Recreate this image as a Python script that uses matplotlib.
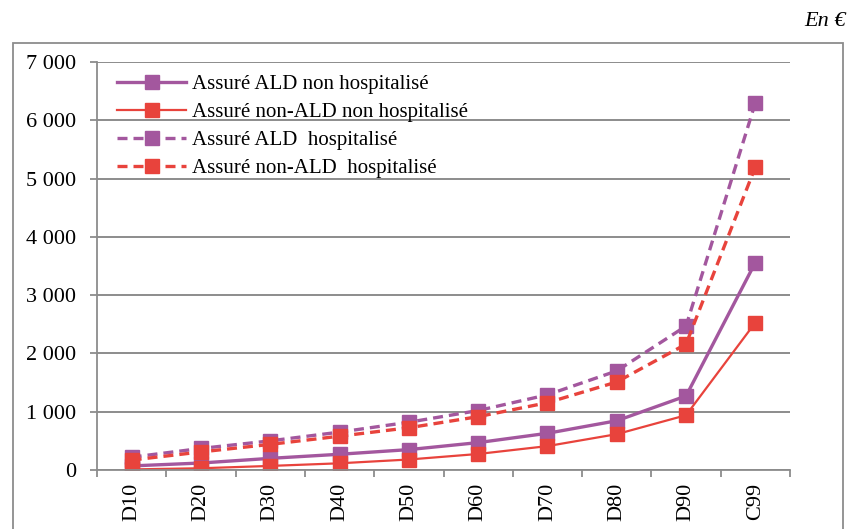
import matplotlib
matplotlib.use("Agg")
import matplotlib.pyplot as plt
from matplotlib.patches import Rectangle
import numpy as np

categories = ["D10", "D20", "D30", "D40", "D50", "D60", "D70", "D80", "D90", "C99"]
ald_non_hosp = [70, 120, 200, 270, 350, 470, 630, 845, 1270, 3560]
nonald_non_hosp = [10, 30, 70, 115, 180, 275, 410, 615, 940, 2530]
ald_hosp = [220, 370, 500, 650, 820, 1020, 1290, 1700, 2470, 6300]
nonald_hosp = [170, 310, 440, 580, 725, 915, 1155, 1510, 2160, 5200]
yticks = [0, 1000, 2000, 3000, 4000, 5000, 6000, 7000]
ytick_labels = ["0", "1 000", "2 000", "3 000", "4 000", "5 000", "6 000", "7 000"]
series_labels = ["Assuré ALD non hospitalisé", "Assuré non-ALD non hospitalisé",
                 "Assuré ALD  hospitalisé", "Assuré non-ALD  hospitalisé"]

purple = "#A3579E"
red = "#E8433C"
grid_c = "#8C8C8C"

plt.rcParams["font.family"] = ["Liberation Serif", "DejaVu Serif"]

fig = plt.figure(figsize=(8.48, 5.29), dpi=100)
ax = fig.add_axes([97/848, 1-470/529, (790-97)/848, (470-62)/529])

x = np.arange(len(categories))
ms = 10.5
ax.plot(x, ald_non_hosp, color=purple, lw=2.4, marker="s", ms=ms, label=series_labels[0])
ax.plot(x, nonald_non_hosp, color=red, lw=1.6, marker="s", ms=ms, label=series_labels[1])
ax.plot(x, ald_hosp, color=purple, lw=2.4, ls=(0, (3, 1.8)), marker="s", ms=ms, label=series_labels[2])
ax.plot(x, nonald_hosp, color=red, lw=2.4, ls=(0, (3, 1.8)), marker="s", ms=ms, label=series_labels[3])

ax.set_xlim(-0.5, len(categories) - 0.5)
ax.set_ylim(0, 7000)
ax.set_yticks(yticks)
ax.set_yticklabels(ytick_labels, fontsize=16)
ax.set_xticks(x)
ax.set_xticklabels(categories, rotation=90, fontsize=16, va="top")
ax.set_xticks(np.arange(-0.5, len(categories), 1.0), minor=True)
ax.tick_params(axis="x", which="major", length=0, pad=9)
ax.tick_params(axis="x", which="minor", length=5, color=grid_c, width=1.3)
ax.tick_params(axis="y", length=5, color=grid_c, width=1.3, pad=10)

ax.grid(axis="y", color=grid_c, lw=1.4)
ax.set_axisbelow(True)
for s in ["top", "right"]:
    ax.spines[s].set_visible(False)
ax.spines["left"].set_color(grid_c)
ax.spines["left"].set_linewidth(1.3)
ax.spines["bottom"].set_color(grid_c)
ax.spines["bottom"].set_linewidth(1.3)

leg = ax.legend(loc="upper left", bbox_to_anchor=(0.008, 1.005), frameon=False, fontsize=15,
                handlelength=3.3, labelspacing=0.4, borderaxespad=0.3, handletextpad=0.3,
                markerscale=0.9)

fig.patches.append(Rectangle((13/848, -0.1), (843-13)/848, 1.1 - 43/529, transform=fig.transFigure,
                             fill=False, edgecolor=grid_c, lw=1.3))
fig.text(846/848, 1-22/529, "En €", ha="right", va="center", fontsize=16, style="italic")

fig.savefig("out.png", dpi=100)
